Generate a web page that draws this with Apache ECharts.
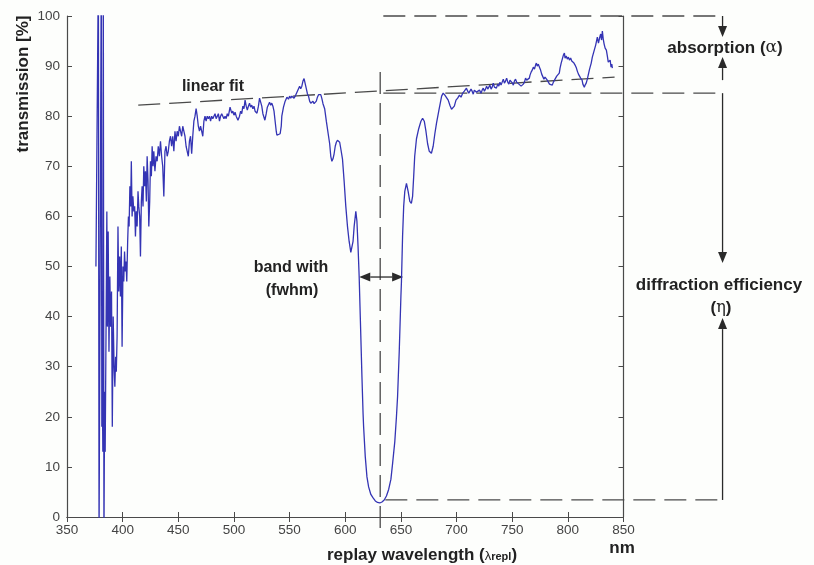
<!DOCTYPE html>
<html>
<head>
<meta charset="utf-8">
<script src="https://cdn.jsdelivr.net/npm/echarts@6/dist/echarts.min.js"></script>
<style>
html,body{margin:0;padding:0;background:#fdfefc;}
#chart{width:814px;height:565px;}
</style>
</head>
<body>
<div id="chart"></div>
<script>
// ---- data (wavelength nm, transmission %) ----
const spectrum = [
[376,50],[377.5,50],[378.2,110],[378.8,-5],[380.8,110],[381.3,18],[381.8,25],[382.2,13],[382.6,110],[383.2,-5],
[383.8,25],[384.3,13],[385,35],[385.8,61],[386.3,38],[387,57],[387.7,33],[388.5,48],[389.2,38],[390,45],
[390.7,18],[391.5,40],[392.3,30],[393,26],[393.7,32],[394.3,29],[395,36],[395.8,58],[396.5,45],[397.3,52],
[398,44],[398.8,54],[399.5,34],[400.3,50],[401,47],[401.7,53],[402.4,49],[403,51],[403.7,47],[404.5,55],
[405.2,60],[405.8,58],[406.5,66],[407.2,62],[407.8,71],[408.5,60],[409.2,64],[410,61],[410.8,62],[411.5,56],
[412.2,61],[413,58],[413.8,65],[414.5,62],[415.3,60],[416,52],[416.8,63],[417.5,66],[418.3,62],[419,70],
[419.8,66],[420.5,69],[421.3,63],[422,72],[422.8,67],[423.5,58],[424.3,63],[425,71],[425.8,68],[426.5,74],
[427.3,70],[428,73],[429,69],[430,72],[431,71],[432,74],[433,72],[434,75],[435,72],[436,70],[437,64],
[438,73],[439,74],[440,72],[441,73],[442,75],[443,76],[444,74],[445,76],[446,73],[447,77],[448,75],
[449,77],[450,76],[451,78],[452,77],[453,76],[454,78],[455,77],[456,76],[457,74],[458,73],[459,72],
[460,75],[461,76],[462,72.5],[463,76],[464,79],[465,80],[466,81.5],[467,80],[468,78],[469,77],[470,78],
[471,77],[472,76],[473,79],[474,80],[475,79],[476,80],[477,79.5],[478,80],[479,79],[480,80],[481,79.5],
[482,80],[483,80.5],[484,79.5],[485,80],[486,80.5],[487,79],[488,80],[489,80.5],[490,80],[491,79.5],
[492,80],[493,79.5],[494,80.5],[495,80],[496.5,81.8],[498,80.6],[499,81],[500,80.2],[501,80.8],[502,80],
[503.6,79.2],[505,80],[506,81],[507,80.5],[508,82],[509,81.5],[510,83.2],[511,82],[512,81.2],[513,82],
[514,82.6],[515,81.8],[516,82.2],[517,81.5],[518,82],[519,81],[520.7,80.6],[522,82],[523,83.6],[524,82.8],
[525,82],[526,80.5],[527.8,79.2],[529,80.5],[530,81.8],[531,82],[532,82.8],[533,82.2],[534,82.6],[535,82],
[536,81],[537,79],[538,77],[538.6,76.2],[540,76],[541.5,76.5],[542.5,78],[543,80],[544.5,81.8],[546,83],
[547.6,83.8],[549,83.4],[550,84],[551,83.6],[552,84],[553,84.2],[554,83.6],[555,84],[556,84],[557,85],
[558,85.5],[559,86],[560,85.5],[561,86],[562,87],[563,87.5],[564,86.5],[565,85.5],[566,84.5],[567,84],
[568,83],[569,82.6],[570,82.6],[571,83],[572,82.5],[573,82.6],[574,83],[575,83.8],[576,84.3],[577,84.5],
[578,84.3],[579,83.5],[580,82.5],[581.5,81.5],[583,79],[585,76],[586,74.5],[587,72],[588,71],[589,71.5],
[590,72.5],[591,74],[592,74.8],[593,75.2],[594,75.2],[595,74.8],[596,73.5],[597.5,71.5],[599,67],[600.5,62],
[602,58],[603.5,55],[605,52.8],[606,53],[607,55],[608,58],[609.5,61],[610.5,59],[611.5,54],[612.5,48],
[613.5,40],[615,28],[616,20.7],[616.5,18],[618,12],[619.5,8],[621,6],[623,4.5],[625,3.8],[627,3.2],
[629,2.9],[631,2.8],[633,3.0],[635,3.4],[637,4.2],[639,5.5],[641,7.5],[642.6,10.8],[644.5,15],[646,20],
[647,24],[648.5,33],[650,44],[650.5,47],[651.5,56],[652.5,62],[653.5,65],[655,66.6],[656.5,65],[658,63],
[659.4,62.6],[660.5,64],[661.5,68],[662.4,72],[664,75.5],[666,77.5],[668,79],[669.5,79.6],[671,79],[672.5,77],
[674,74.5],[675.5,73],[677.4,72.6],[679,74],[680.5,76.5],[682,78.6],[684,81],[686.6,84],[688,84.6],[689.5,84.2],
[691,84],[692.5,83.2],[694,82.2],[695.5,81.4],[696.4,81.2],[698,82],[699.5,83.2],[701,83.6],[702.6,84.2],[704,83.8],
[705.5,84.6],[707,85],[708.9,85.6],[710,85],[711,84.6],[712,84.8],[713,85.4],[714,85],[715,84.4],[716,85.2],
[717,85.4],[718,84.8],[719,85],[720.6,85.2],[722,84.6],[723,85.2],[724,85.6],[725,85],[726,85.4],[727,86],
[728,85.4],[729,85.8],[730,86.2],[731,85.4],[732,85.8],[733,86.6],[734,85.8],[735.8,85.6],[737,86.4],[738,86],
[739,86.8],[740,86.2],[741,86.8],[742,87.4],[743,86.6],[744,87],[745,87.6],[746,86.8],[747,86.4],[748,87.2],
[749,87],[750.2,86.6],[751,86.2],[752,87],[753,87.4],[754,86.8],[755,87],[756,86.4],[757,86.2],[758,86],
[759.2,85.8],[760,86.4],[761,86.8],[762,87.6],[763,87.2],[764,87],[765.4,87.6],[766,88.2],[767,88.8],[768,89.2],
[769,89.8],[770,89.4],[771,90.2],[771.7,90.6],[772.5,90],[773.5,90.4],[774.4,89.8],[775.5,89.2],[776.5,88.4],[777.5,88.2],
[778.5,87.4],[779.5,87.8],[780.7,87.6],[781.5,87.2],[782.5,86.8],[783.5,86.4],[784.5,86.2],[786,86.2],[787,86.8],[788,87],
[789,87.6],[790,88],[791,88.2],[792.3,88.6],[793,89.6],[794,90.6],[795,91.4],[796,92.2],[796.9,92.6],[797.5,91.6],
[798.5,92],[799.5,91.4],[800.5,91.8],[801.4,91.2],[802.5,91.6],[803.5,91],[804.5,91.2],[805.5,90.6],[806.5,90.2],[807.7,89.6],
[808.5,89],[809.5,88.4],[810.5,88],[811.5,87.6],[812.8,87.2],[813.5,86.4],[814.8,85.8],[815.5,86.2],[816.5,86.6],[817.5,87.4],
[818.5,88.4],[819.3,89.2],[820,89.8],[821,90.6],[822,91.8],[823,92.6],[824,93.4],[825,94.2],[826.5,95.8],[827.5,94.6],
[828.5,95.6],[829.5,96.4],[830.3,95.2],[831,97],[831.8,95.4],[832.6,94.4],[833.5,93.6],[834.6,93.2],[835.5,92],[836.3,90.8],
[837.3,90.6],[838,91.2],[838.8,89.8],[839.5,90.4],[840,89.6]
];
const xTicks = {min: 350, max: 850, step: 50};
const yTicks = {min: 0, max: 100, step: 10};
// annotation segments: [x1, y1, x2, y2, kind]  kind 0 = dashed, 1 = arrow (head at end), 2 = double arrow
const annotations = [
  [414, 82.2, 842, 87.8, 0],      // linear fit
  [631.4, 88.8, 631.4, -3.2, 0],  // centre wavelength
  [634.2, 100, 934, 100, 0],      // 100 % level
  [634.2, 84.6, 934, 84.6, 0],    // fit level
  [636, 3.4, 939.6, 3.4, 0],      // minimum level
  [939, 100, 939, 95.8, 1],       // absorption arrow (down)
  [939, 87.2, 939, 91.8, 1],      // absorption arrow (up)
  [939, 84.6, 939, 50.7, 1],      // efficiency arrow (down)
  [939, 3.4, 939, 39.7, 1],       // efficiency arrow (up)
  [612.6, 47.9, 652, 47.9, 2]     // fwhm
];

const chart = echarts.init(document.getElementById('chart'));
const FONT = '"Liberation Sans", Arial, sans-serif';

function head(tip, from, L, W) {
  const dx = tip[0] - from[0], dy = tip[1] - from[1];
  const len = Math.sqrt(dx * dx + dy * dy) || 1;
  const ux = dx / len, uy = dy / len, nx = -uy, ny = ux;
  const bx = tip[0] - ux * L, by = tip[1] - uy * L;
  return {pts: [[tip[0], tip[1]], [bx + nx * W, by + ny * W], [bx - nx * W, by - ny * W]], base: [bx, by]};
}

function renderAnnot(params, api) {
  const p1 = api.coord([api.value(0), api.value(1)]);
  const p2 = api.coord([api.value(2), api.value(3)]);
  const kind = api.value(4);
  if (kind === 0) {
    return {type: 'line', shape: {x1: p1[0], y1: p1[1], x2: p2[0], y2: p2[1]},
      style: {stroke: '#4a4a4a', lineWidth: 1.3, lineDash: [22, 9]}};
  }
  const children = [];
  let a = p1, b = p2;
  const h2 = head(p2, p1, 11, 4.5);
  children.push({type: 'polygon', shape: {points: h2.pts}, style: {fill: '#2a2a2a'}});
  b = h2.base;
  if (kind === 2) {
    const h1 = head(p1, p2, 11, 4.5);
    children.push({type: 'polygon', shape: {points: h1.pts}, style: {fill: '#2a2a2a'}});
    a = h1.base;
  }
  children.push({type: 'line', shape: {x1: a[0], y1: a[1], x2: b[0], y2: b[1]},
    style: {stroke: '#2a2a2a', lineWidth: 1.3}});
  return {type: 'group', children: children};
}

const axisBase = {
  axisLine: {show: true, lineStyle: {color: '#4a4a4a', width: 1.2}},
  axisTick: {show: true, inside: true, length: 5, lineStyle: {color: '#4a4a4a'}},
  splitLine: {show: false}
};

const option = {
  backgroundColor: '#fdfefc',
  animation: false,
  grid: {left: 67, right: 190.5, top: 16, bottom: 48, containLabel: false},
  xAxis: [
    Object.assign({type: 'value', min: xTicks.min, max: xTicks.max, interval: xTicks.step,
      axisLabel: {color: '#444', fontSize: 13.5, fontFamily: FONT, margin: 6}}, axisBase),
    Object.assign({type: 'value', position: 'top', min: xTicks.min, max: xTicks.max, interval: xTicks.step,
      axisLabel: {show: false}}, axisBase)
  ],
  yAxis: [
    Object.assign({type: 'value', min: yTicks.min, max: yTicks.max, interval: yTicks.step,
      axisLabel: {color: '#444', fontSize: 13.5, fontFamily: FONT, margin: 7}}, axisBase),
    Object.assign({type: 'value', position: 'right', min: yTicks.min, max: yTicks.max, interval: yTicks.step,
      axisLabel: {show: false}}, axisBase)
  ],
  series: [
    {type: 'line', name: 'transmission', data: spectrum, showSymbol: false, symbol: 'none',
     sampling: null, lineStyle: {color: '#3434b4', width: 1.3}, z: 5, clip: true, animation: false},
    {type: 'custom', name: 'annotations', data: annotations, renderItem: renderAnnot,
     encode: {x: [0, 2], y: [1, 3]}, clip: false, silent: true, z: 4, animation: false}
  ],
  graphic: [
    {type: 'text', x: 23, y: 84, rotation: Math.PI / 2,
     style: {text: 'transmission [%]', font: 'bold 17px ' + FONT, fill: '#222', align: 'center', verticalAlign: 'middle'}},
    {type: 'text', x: 422, y: 555,
     style: {text: '{a|replay wavelength (}{b|λ}{c|repl}{a|)}', align: 'center', verticalAlign: 'middle',
       rich: {a: {font: 'bold 17px ' + FONT, fill: '#222'},
              b: {font: '13px ' + FONT, fill: '#222', padding: [2, 0, 0, 0]},
              c: {font: 'bold 11px ' + FONT, fill: '#222', padding: [4, 0, 0, 0]}}}},
    {type: 'text', x: 622, y: 548,
     style: {text: 'nm', font: 'bold 17px ' + FONT, fill: '#222', align: 'center', verticalAlign: 'middle'}},
    {type: 'text', x: 213, y: 87,
     style: {text: 'linear fit', font: 'bold 16px ' + FONT, fill: '#222', align: 'center', verticalAlign: 'middle'}},
    {type: 'text', x: 291, y: 268,
     style: {text: 'band with', font: 'bold 16px ' + FONT, fill: '#222', align: 'center', verticalAlign: 'middle'}},
    {type: 'text', x: 292, y: 291,
     style: {text: '(fwhm)', font: 'bold 16px ' + FONT, fill: '#222', align: 'center', verticalAlign: 'middle'}},
    {type: 'text', x: 725, y: 48,
     style: {text: '{a|absorption (}{b|α}{a|)}', align: 'center', verticalAlign: 'middle',
       rich: {a: {font: 'bold 17px ' + FONT, fill: '#222'}, b: {font: '17px "DejaVu Serif", serif', fill: '#222'}}}},
    {type: 'text', x: 719, y: 285,
     style: {text: 'diffraction efficiency', font: 'bold 17px ' + FONT, fill: '#222', align: 'center', verticalAlign: 'middle'}},
    {type: 'text', x: 721, y: 308,
     style: {text: '{a|(}{b|η}{a|)}', align: 'center', verticalAlign: 'middle',
       rich: {a: {font: 'bold 17px ' + FONT, fill: '#222'}, b: {font: '16px "DejaVu Serif", serif', fill: '#222'}}}}
  ]
};
chart.setOption(option);
</script>
</body>
</html>
